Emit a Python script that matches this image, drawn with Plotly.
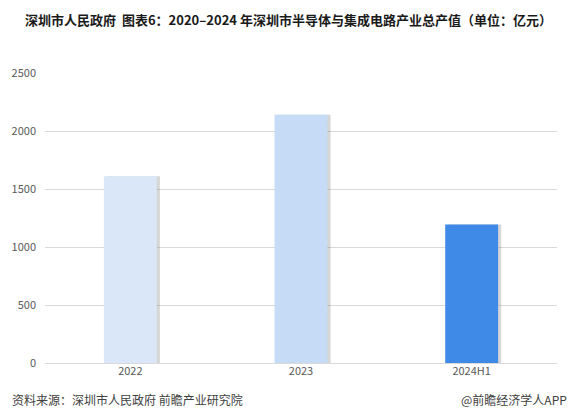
import plotly.graph_objects as go

categories = ["2022", "2023", "2024H1"]
values = [1610, 2140, 1195]
bar_colors = ["#dae7f8", "#c6dbf6", "#3f8ae6"]
y_ticks = [0, 500, 1000, 1500, 2000, 2500]

title_text = "深圳市人民政府  图表6：2020–2024 年深圳市半导体与集成电路产业总产值（单位：亿元）"
source_text = "资料来源：深圳市人民政府 前瞻产业研究院"
credit_text = "@前瞻经济学人APP"

FONT = "Noto Sans CJK SC"
BW = 0.31

W, H = 574, 413
L, R, T, B = 40, 17, 73, 50
PW, PH = W - L - R, H - T - B


def px(x):
    return (x - L) / PW


def py(y):
    return (H - B - y) / PH


fig = go.Figure()
# soft shadow behind bars
fig.add_trace(go.Bar(
    x=categories, y=values, width=BW, offset=-BW / 2 + 0.018,
    marker=dict(color="rgba(120,120,120,0.3)", line=dict(width=0)),
    hoverinfo="skip", showlegend=False,
))
fig.add_trace(go.Bar(
    x=categories, y=values, width=BW, offset=-BW / 2,
    marker=dict(color=bar_colors, line=dict(width=0)),
    showlegend=False,
))

fig.update_layout(
    width=W, height=H,
    margin=dict(l=L, r=R, t=T, b=B),
    paper_bgcolor="white", plot_bgcolor="white",
    barmode="overlay",
    font=dict(family=FONT, color="#595959", size=11),
    xaxis=dict(showgrid=False, showline=False, ticks="", tickfont=dict(size=11, color="#595959")),
    yaxis=dict(range=[0, 2500], tickvals=y_ticks, showgrid=True, gridcolor="#d9d9d9",
               gridwidth=1, zeroline=True, zerolinecolor="#d9d9d9", zerolinewidth=1,
               showline=False, ticks="", tickfont=dict(size=11, color="#595959"),
               ticklabelstandoff=8),
    annotations=[
        dict(text="<b>" + title_text + "</b>", x=px(18), y=py(20), xref="paper", yref="paper",
             xanchor="left", yanchor="middle", showarrow=False,
             font=dict(family=FONT, size=13, color="#1a1a1a")),
        dict(text=source_text, x=px(5), y=py(399), xref="paper", yref="paper",
             xanchor="left", yanchor="middle", showarrow=False,
             font=dict(family=FONT, size=12, color="#404040")),
        dict(text=credit_text, x=px(569), y=py(399), xref="paper", yref="paper",
             xanchor="right", yanchor="middle", showarrow=False,
             font=dict(family=FONT, size=12, color="#404040")),
    ],
)

fig.write_html("out.html", config={"displayModeBar": False},
               post_script="document.body.style.margin='0';")
